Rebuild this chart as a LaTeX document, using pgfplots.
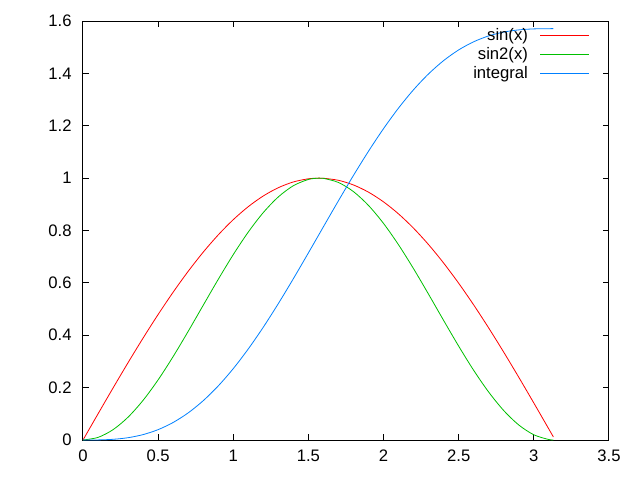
\documentclass[border=0pt]{standalone}
\usepackage{pgfplots}
\pgfplotsset{compat=1.18}
\usepackage{fontspec}
\setmainfont{Liberation Sans}
\definecolor{gpred}{RGB}{255,0,0}
\definecolor{gpgreen}{RGB}{0,192,0}
\definecolor{gpblue}{RGB}{0,128,255}
\begin{document}
\begin{tikzpicture}
\begin{axis}[
  scale only axis,
  width=394.5pt, height=314.25pt,
  xmin=0, xmax=3.5, ymin=0, ymax=1.6,
  xtick={0,0.5,...,3.5},
  ytick={0,0.2,...,1.6},
  tick align=inside,
  major tick length=4.5pt,
  axis line style={line width=0.75pt},
  tick style={line width=0.75pt, black},
  every tick label/.append style={font=\fontsize{12.5}{14}\selectfont},
  /pgf/number format/assume math mode=true,
  yticklabel style={xshift=-5pt},
  xticklabel style={yshift=-4pt},
  legend plot pos=right,
  legend cell align=right,
  legend style={draw=none, fill=none, at={(axis description cs:1,1)}, anchor=north east,
    xshift=-14.25pt, yshift=-3pt, font=\fontsize{12.5}{14}\selectfont,
    row sep=0pt, column sep=7pt, inner sep=0pt,
    nodes={inner sep=2pt}},
  legend image code/.code={\draw[#1] (0pt,0pt) -- (36.75pt,0pt);},
]
\addplot[gpred, line width=0.6pt, smooth] coordinates {
(0,0) (0.1,0.09983) (0.2,0.19867) (0.3,0.29552) (0.4,0.38942) (0.5,0.47943)
(0.6,0.56464) (0.7,0.64422) (0.8,0.71736) (0.9,0.78333) (1.0,0.84147)
(1.1,0.89121) (1.2,0.93204) (1.3,0.96356) (1.4,0.98545) (1.5,0.99749)
(1.57,1.0) (1.6,0.99957) (1.7,0.99166) (1.8,0.97385) (1.9,0.94630) (2.0,0.90930)
(2.1,0.86321) (2.2,0.80850) (2.3,0.74571) (2.4,0.67546) (2.5,0.59847)
(2.6,0.51550) (2.7,0.42738) (2.8,0.33499) (2.9,0.23925) (3.0,0.14112)
(3.1,0.04158) (3.13,0.01159)
};
\addlegendentry{sin(x)}
\addplot[gpgreen, line width=0.6pt, smooth] coordinates {
(0,0) (0.1,0.00997) (0.2,0.03947) (0.3,0.08733) (0.4,0.15164) (0.5,0.22985)
(0.6,0.31882) (0.7,0.41502) (0.8,0.51460) (0.9,0.61360) (1.0,0.70807)
(1.1,0.79426) (1.2,0.86870) (1.3,0.92845) (1.4,0.97111) (1.5,0.99499)
(1.57,1.0) (1.6,0.99914) (1.7,0.98339) (1.8,0.94838) (1.9,0.89548) (2.0,0.82682)
(2.1,0.74513) (2.2,0.65367) (2.3,0.55608) (2.4,0.45625) (2.5,0.35817)
(2.6,0.26574) (2.7,0.18265) (2.8,0.11222) (2.9,0.05724) (3.0,0.01991)
(3.1,0.00173) (3.13,0.00013)
};
\addlegendentry{sin2(x)}
\addplot[gpblue, line width=0.6pt, smooth] coordinates {
(0,0) (0.1,0.00033) (0.2,0.00265) (0.3,0.00884) (0.4,0.02066) (0.5,0.03963)
(0.6,0.06699) (0.7,0.10364) (0.8,0.15011) (0.9,0.20654) (1.0,0.27268)
(1.1,0.34787) (1.2,0.43113) (1.3,0.52112) (1.4,0.61625) (1.5,0.71472)
(1.57,0.78460) (1.6,0.81459) (1.7,0.91389) (1.8,1.01063) (1.9,1.10297) (2.0,1.18920)
(2.1,1.26790) (2.2,1.33790) (2.3,1.39842) (2.4,1.44904) (2.5,1.48973)
(2.6,1.52086) (2.7,1.54319) (2.8,1.55782) (2.9,1.56615) (3.0,1.56985)
(3.1,1.57077) (3.13,1.5708)
};
\addlegendentry{integral}
\end{axis}
\pgfresetboundingbox
\path (-62.25pt,-30pt) rectangle (417.75pt,330pt);
\end{tikzpicture}
\end{document}
